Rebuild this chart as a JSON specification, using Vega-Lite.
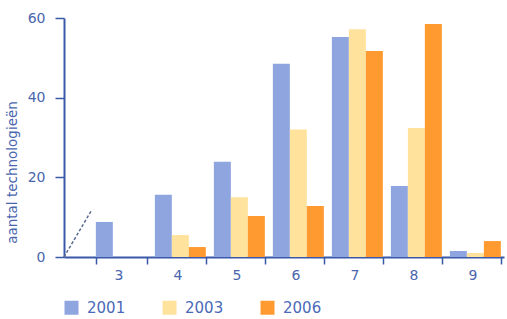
{
  "$schema": "https://vega.github.io/schema/vega-lite/v6.json",
  "width": 440,
  "height": 239,
  "autosize": "none",
  "padding": {"left": 64, "top": 18, "right": 3, "bottom": 62},
  "background": "white",
  "config": {"view": {"stroke": null}, "font": "DejaVu Sans"},
  "datasets": {
    "bars": [
      {"categorie": "3", "jaar": "2001", "aantal": 8.8},
      {"categorie": "4", "jaar": "2001", "aantal": 15.6},
      {"categorie": "4", "jaar": "2003", "aantal": 5.5},
      {"categorie": "4", "jaar": "2006", "aantal": 2.5},
      {"categorie": "5", "jaar": "2001", "aantal": 23.9},
      {"categorie": "5", "jaar": "2003", "aantal": 15},
      {"categorie": "5", "jaar": "2006", "aantal": 10.3},
      {"categorie": "6", "jaar": "2001", "aantal": 48.5},
      {"categorie": "6", "jaar": "2003", "aantal": 32},
      {"categorie": "6", "jaar": "2006", "aantal": 12.8},
      {"categorie": "7", "jaar": "2001", "aantal": 55.2},
      {"categorie": "7", "jaar": "2003", "aantal": 57.2},
      {"categorie": "7", "jaar": "2006", "aantal": 51.7},
      {"categorie": "8", "jaar": "2001", "aantal": 17.8},
      {"categorie": "8", "jaar": "2003", "aantal": 32.4},
      {"categorie": "8", "jaar": "2006", "aantal": 58.5},
      {"categorie": "9", "jaar": "2001", "aantal": 1.5},
      {"categorie": "9", "jaar": "2003", "aantal": 1},
      {"categorie": "9", "jaar": "2006", "aantal": 4}
    ],
    "breuk": [
      {"bx": 0, "by": 0},
      {"bx": 1, "by": 11.5}
    ]
  },
  "layer": [
    {
      "data": {"name": "bars"},
      "mark": {"type": "bar"},
      "encoding": {
        "x": {
          "field": "categorie",
          "type": "ordinal",
          "scale": {"paddingInner": 0.136, "paddingOuter": 0.2966, "align": 0.91},
          "axis": {
            "title": null,
            "labelAngle": 0,
            "tickBand": "extent",
            "domainColor": "#3a58a8",
            "domainWidth": 2,
            "tickColor": "#3a58a8",
            "tickWidth": 1.5,
            "tickSize": 7,
            "labelColor": "#4a66ad",
            "labelFontSize": 14,
            "labelPadding": 4,
            "labelOffset": -3
          }
        },
        "xOffset": {"field": "jaar", "type": "nominal", "scale": {"paddingInner": 0, "paddingOuter": 0}},
        "y": {
          "field": "aantal",
          "type": "quantitative",
          "scale": {"domain": [0, 60]},
          "axis": {
            "title": "aantal technologieën",
            "titleColor": "#4a66ad",
            "titleFontSize": 13.5,
            "titleFontWeight": "normal",
            "titlePadding": 8,
            "titleY": 154,
            "values": [0, 20, 40, 60],
            "grid": false,
            "domainColor": "#3a58a8",
            "domainWidth": 2,
            "tickColor": "#3a58a8",
            "tickWidth": 1.5,
            "tickSize": 9,
            "labelColor": "#4a66ad",
            "labelFontSize": 14,
            "labelPadding": 10
          }
        },
        "color": {
          "field": "jaar",
          "type": "nominal",
          "scale": {"domain": ["2001", "2003", "2006"], "range": ["#8fa5e0", "#ffe29b", "#ff9a30"]},
          "legend": {
            "title": null,
            "orient": "bottom",
            "direction": "horizontal",
            "symbolType": "square",
            "symbolSize": 196,
            "symbolStrokeWidth": 0,
            "labelFontSize": 15,
            "labelColor": "#4a6ab8",
            "labelOffset": 8,
            "columnPadding": 36,
            "offset": 18
          }
        }
      }
    },
    {
      "data": {"name": "breuk"},
      "mark": {"type": "line", "strokeDash": [3, 2], "strokeWidth": 1.5, "color": "#5a6a90"},
      "encoding": {
        "x": {"field": "bx", "type": "quantitative", "scale": {"domain": [0, 16.3]}, "axis": null},
        "y": {"field": "by", "type": "quantitative"}
      }
    }
  ],
  "resolve": {"scale": {"x": "independent"}}
}
